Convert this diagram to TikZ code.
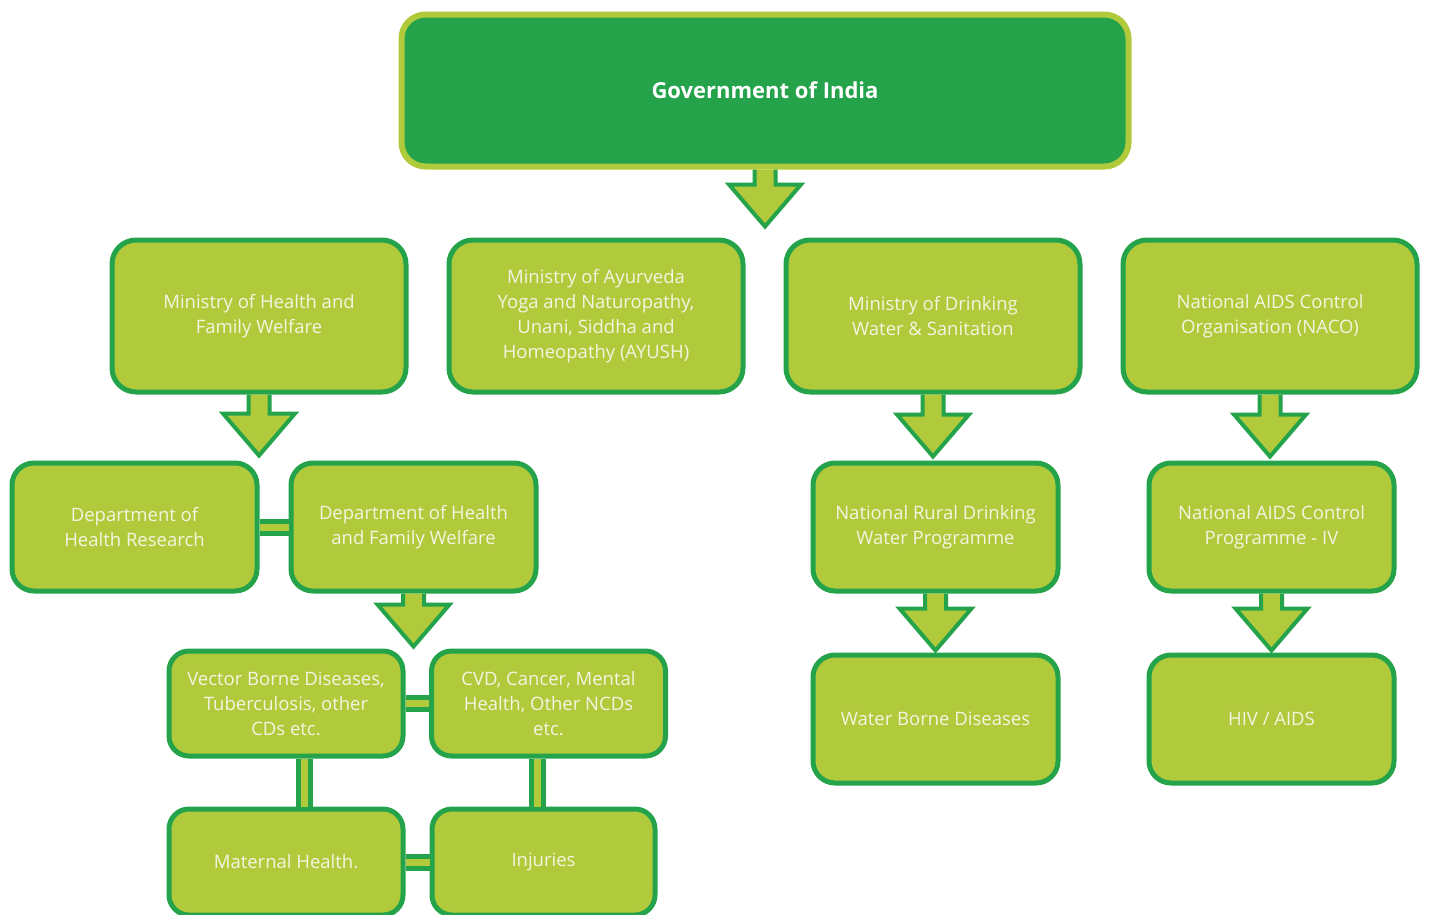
\documentclass[tikz,border=0pt]{standalone}
\usepackage{fontspec}
\setmainfont{Open Sans}
\usepackage{xcolor}
\usepackage{tikz}
\usetikzlibrary{positioning,calc}

\definecolor{darkgreen}{HTML}{24A34B}
\definecolor{limegreen}{HTML}{B1CA3B}
\definecolor{paletext}{HTML}{F3F5E2}

% fat down arrow from one box towards the next one
\newcommand{\blockdown}[3]{%
  \coordinate (tip) at ($(#1.south |- #2.north)+(0,-#3)$);
  \draw[blockarrow] ($(#1.south)+(-10.5,0)$) -- ($(tip)+(-10.5,-42)$) -- ($(tip)+(-36,-42)$) -- (tip)
        -- ($(tip)+(36,-42)$) -- ($(tip)+(10.5,-42)$) -- ($(#1.south)+(10.5,0)$);
}

\begin{document}
\begin{tikzpicture}[x=1pt, y=-1pt, node distance=337pt,
    box/.style={draw=darkgreen, fill=limegreen, line width=5pt, rounded corners=24pt, text=paletext, align=center, minimum width=294pt, minimum height=152pt, font=\fontsize{18.5}{25}\selectfont},
    smallbox/.style={box, rounded corners=22pt, minimum width=245pt, minimum height=128pt},
    tinybox/.style={box, rounded corners=20pt, minimum width=234pt, minimum height=105pt},
    blockarrow/.style={draw=darkgreen, fill=limegreen, line width=4pt, line join=miter},
    link/.style={draw=darkgreen, double=limegreen, line width=5pt, double distance=7pt}]
    \useasboundingbox (0,0) rectangle (1430,914);

    \node[box, fill=darkgreen, draw=limegreen, line width=6pt, minimum width=727pt, text=white, font=\bfseries\fontsize{22}{26}\selectfont] (gov) at (765,90.5) {Government of India};

    \node[box] (mohfw) at (259,316) {Ministry of Health and\\Family Welfare};
    \node[box, right of=mohfw] (ayush) {Ministry of Ayurveda\\Yoga and Naturopathy,\\Unani, Siddha and\\Homeopathy (AYUSH)};
    \node[box, right of=ayush] (modws) {Ministry of Drinking\\Water \& Sanitation};
    \node[box, right of=modws] (naco) {National AIDS Control\\Organisation (NACO)};

    \node[smallbox] (dhr) at (134.5,527) {Department of\\Health Research};
    \node[smallbox] (dohfw) at (413.5,527) {Department of Health\\and Family Welfare};
    \node[smallbox] (nrdwp) at (935.5,527) {National Rural Drinking\\Water Programme};
    \node[smallbox] (nacp) at (1271.5,527) {National AIDS Control\\Programme - IV};

    \node[tinybox] (vbd) at (286,703.5) {Vector Borne Diseases,\\Tuberculosis, other\\CDs etc.};
    \node[tinybox] (cvd) at (548.5,703.5) {CVD, Cancer, Mental\\Health, Other NCDs\\etc.};
    \node[tinybox, minimum height=106pt] (mat) at (286,862) {Maternal Health.};
    \node[tinybox, minimum height=106pt, minimum width=223pt] (inj) at (543.5,862) {Injuries};

    \node[smallbox] (wbd) at (935.5,719) {Water Borne Diseases};
    \node[smallbox] (hiv) at (1271.5,719) {HIV / AIDS};

    % arrows
    \blockdown{gov}{ayush}{11}
    \blockdown{mohfw}{dohfw}{5}
    \blockdown{dohfw}{cvd}{2}
    \blockdown{modws}{nrdwp}{4}
    \blockdown{nrdwp}{wbd}{2}
    \blockdown{naco}{nacp}{4}
    \blockdown{nacp}{hiv}{2}

    % links between sister boxes
    \draw[link] (dhr) -- (dohfw);
    \draw[link] (vbd) -- (cvd);
    \draw[link] (mat) -- (inj);
    \draw[link] ($(vbd.south)+(18,0)$) -- ($(mat.north)+(18,0)$);
    \draw[link] ($(cvd.south)+(-11.5,0)$) -- ($(inj.north)+(-6.5,0)$);
\end{tikzpicture}
\end{document}
